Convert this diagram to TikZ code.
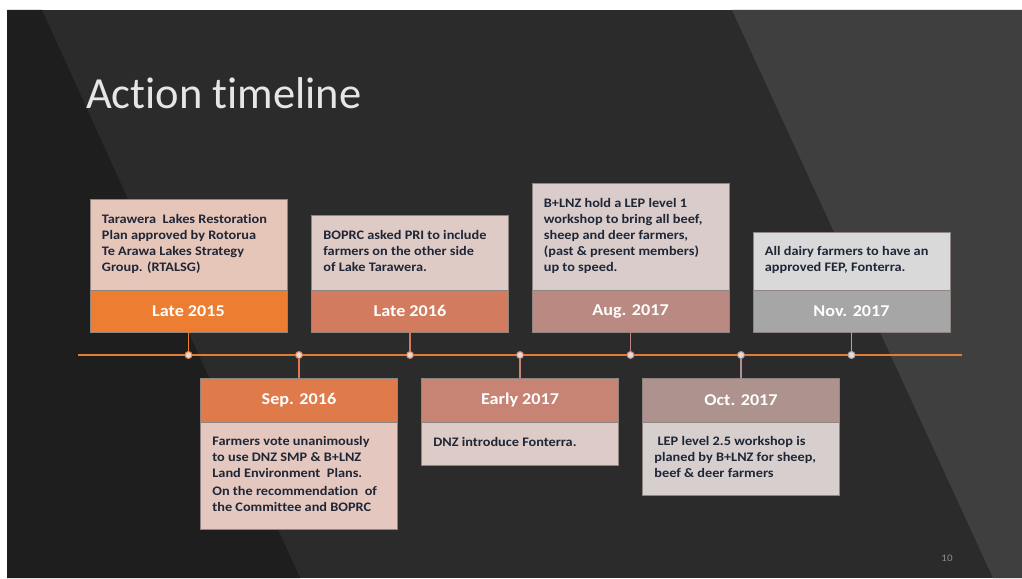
\documentclass[tikz,border=0pt]{standalone}
\usepackage{fontspec}
\setmainfont[FakeStretch=1.1, Ligatures=NoCommon]{Carlito}
\newfontfamily\titlefamily[Ligatures=NoCommon]{Carlito}
\usetikzlibrary{positioning}

\definecolor{bgleft}{HTML}{1E1E1E}
\definecolor{bgmid}{HTML}{2B2B2B}
\definecolor{bgright}{HTML}{3F3F3F}
\definecolor{titlegray}{HTML}{E6E6E6}
\definecolor{lineorange}{HTML}{E07B39}
\definecolor{boxedge}{HTML}{8E8480}
\definecolor{bodyink}{HTML}{1F2636}
\definecolor{headA}{HTML}{ED7D31}
\definecolor{bodyA}{HTML}{E7C6BA}
\definecolor{headB}{HTML}{DF7B4A}
\definecolor{bodyB}{HTML}{E4C8BF}
\definecolor{headC}{HTML}{D27B5E}
\definecolor{bodyC}{HTML}{DFCBC5}
\definecolor{headD}{HTML}{C78373}
\definecolor{bodyD}{HTML}{DCCBC7}
\definecolor{headE}{HTML}{BA8A82}
\definecolor{bodyE}{HTML}{D9CCCA}
\definecolor{headF}{HTML}{AD928E}
\definecolor{bodyF}{HTML}{D7CFCE}
\definecolor{headG}{HTML}{A6A6A6}
\definecolor{bodyG}{HTML}{D9D9D9}
\definecolor{dotfill}{HTML}{E8DAD3}

\newcommand{\bodyfont}{\bfseries\fontsize{13}{16}\selectfont}
\newcommand{\headfont}{\bfseries\fontsize{16.5}{18}\selectfont}

\tikzset{
	bodybox/.style={shape=rectangle, draw=boxedge, line width=0.6pt, minimum width=197pt, inner sep=0pt},
	headbox/.style={bodybox, text=white, font=\headfont},
	boxtext/.style={anchor=north west, align=left, inner sep=0pt, font=\bodyfont, text=bodyink},
	tickdot/.style={shape=circle, draw=#1, line width=1pt, fill=dotfill, minimum size=7pt, inner sep=0pt},
	stem/.style={draw=#1, line width=1.5pt}
}

\begin{document}
\begin{tikzpicture}[x=1pt, y=-1pt]
	\useasboundingbox (0,0) rectangle (1022,578);
	% Slide background:
	\fill[white] (0,0) rectangle (1022,578);
	\fill[bgmid] (7,10) rectangle (1022,578);
	\fill[bgleft] (7,10) -- (42,10) -- (300,578) -- (7,578) -- cycle;
	\fill[bgright] (732,10) -- (1022,10) -- (1022,578) -- (993,578) -- cycle;
	\node[anchor=base west, inner sep=0pt, text=titlegray, font=\titlefamily\fontsize{44.5}{50}\selectfont] (title) at (86,108) {Action timeline};
	\node[anchor=center, inner sep=0pt, text=gray!90, font=\fontsize{10}{11}\selectfont] (pagenum) at (947,558) {10};
	% Timeline and markers:
	\coordinate (tlL) at (78,355);
	\coordinate (tlR) at (962,355);
	\draw[lineorange, line width=1.8pt] (tlL) -- (tlR);
	% Upper boxes:
	\node[bodybox, fill=bodyA, minimum height=91pt] (b1) at (188.5,244.5) {};
	\node[headbox, fill=headA, minimum height=42pt] (h1) at (188.5,311) {Late 2015};
	\node[boxtext] (t1) at ([xshift=12pt, yshift=-15pt]b1.north west) {Tarawera\ \ Lakes Restoration\\Plan approved by Rotorua\\Te Arawa Lakes Strategy\\Group. (RTALSG)};
	\node[bodybox, fill=bodyC, minimum height=75pt] (b3) at (410,252.5) {};
	\node[headbox, fill=headC, minimum height=42pt] (h3) at (410,311) {Late 2016};
	\node[boxtext] (t3) at ([xshift=12pt, yshift=-15pt]b3.north west) {BOPRC asked PRI to include\\farmers on the other side\\of Lake Tarawera.};
	\node[bodybox, fill=bodyE, minimum height=107pt] (b5) at (630.5,236.5) {};
	\node[headbox, fill=headE, minimum height=42pt] (h5) at (630.5,311) {Aug. 2017};
	\node[boxtext] (t5) at ([xshift=12pt, yshift=-15pt]b5.north west) {B+LNZ hold a LEP level 1\\workshop to bring all beef,\\sheep and deer farmers,\\(past \& present members)\\up to speed.};
	\node[bodybox, fill=bodyG, minimum height=58pt] (b7) at (851.5,261) {};
	\node[headbox, fill=headG, minimum height=42pt] (h7) at (851.5,311) {Nov. 2017};
	\node[boxtext] (t7) at ([xshift=12pt, yshift=-14pt]b7.north west) {All dairy farmers to have an\\approved FEP, Fonterra.};
	% Lower boxes:
	\node[headbox, fill=headB, minimum height=44pt] (h2) at (299,400) {Sep. 2016};
	\node[bodybox, fill=bodyB, minimum height=107pt] (b2) at (299,475.5) {};
	\node[boxtext] (t2) at ([xshift=12pt, yshift=-14pt]b2.north west) {Farmers vote unanimously\\to use DNZ SMP \& B+LNZ\\Land Environment\ \ Plans.\\[2pt]On the recommendation\ \ of\\the Committee and BOPRC};
	\node[headbox, fill=headD, minimum height=44pt] (h4) at (520,400) {Early 2017};
	\node[bodybox, fill=bodyD, minimum height=43pt] (b4) at (520,443.5) {};
	\node[boxtext] (t4) at ([xshift=12pt, yshift=-15pt]b4.north west) {DNZ introduce Fonterra.};
	\node[headbox, fill=headF, minimum height=44pt] (h6) at (741,400) {Oct. 2017};
	\node[bodybox, fill=bodyF, minimum height=73pt] (b6) at (741,458.5) {};
	\node[boxtext] (t6) at ([xshift=12pt, yshift=-14pt]b6.north west) {\ LEP level 2.5 workshop is\\planed by B+LNZ for sheep,\\beef \& deer farmers};
	% Markers and stems:
	\node[tickdot=headA] (m1) at (188.5,355) {};
	\node[tickdot=headB] (m2) at (299,355) {};
	\node[tickdot=headC] (m3) at (410,355) {};
	\node[tickdot=headD] (m4) at (520,355) {};
	\node[tickdot=headE] (m5) at (630.5,355) {};
	\node[tickdot=headF] (m6) at (741,355) {};
	\node[tickdot=headG] (m7) at (851.5,355) {};
	\draw[stem=headA] (h1.south) -- (m1.north);
	\draw[stem=headB] (m2.south) -- (h2.north);
	\draw[stem=headC] (h3.south) -- (m3.north);
	\draw[stem=headD] (m4.south) -- (h4.north);
	\draw[stem=headE] (h5.south) -- (m5.north);
	\draw[stem=headF] (m6.south) -- (h6.north);
	\draw[stem=headG] (h7.south) -- (m7.north);
\end{tikzpicture}
\end{document}
